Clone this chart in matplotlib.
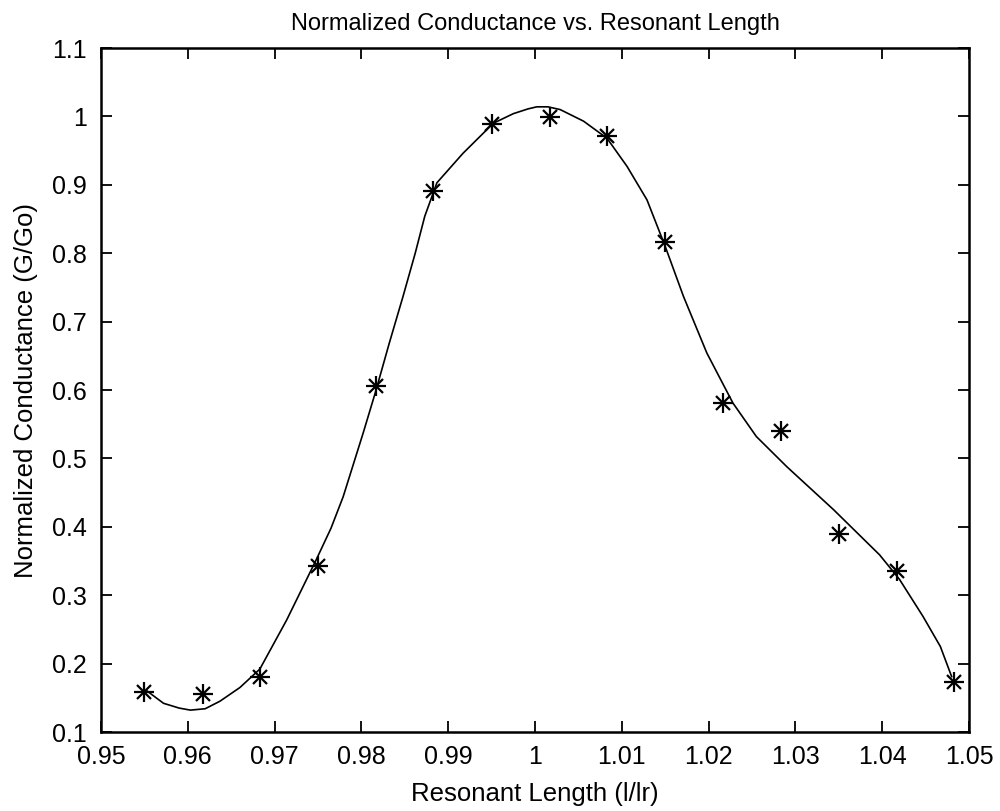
import matplotlib
matplotlib.use("Agg")
from matplotlib import pyplot as plt

# measured points (stars)
length = [0.9550, 0.9617, 0.9683, 0.9750, 0.9817, 0.9883, 0.9950, 1.0017,
          1.0083, 1.0150, 1.0217, 1.0283, 1.0350, 1.0417, 1.0483]
conductance = [0.158, 0.156, 0.181, 0.342, 0.606, 0.891, 0.989, 0.999,
               0.972, 0.817, 0.581, 0.540, 0.389, 0.336, 0.173]

# fitted curve
fit_x = [0.9553, 0.9572, 0.9590, 0.9603, 0.9620, 0.9637, 0.9660, 0.9683,
         0.9714, 0.9748, 0.9765, 0.9779, 0.9802, 0.9816, 0.9832, 0.9848,
         0.9862, 0.9873, 0.9887, 0.9917, 0.9952, 0.9975, 0.9992, 1.0002,
         1.0015, 1.0029, 1.0056, 1.0083, 1.0106, 1.0129, 1.0150, 1.0171,
         1.0198, 1.0228, 1.0255, 1.0290, 1.0344, 1.0397, 1.0420, 1.0447,
         1.0467, 1.0480]
fit_y = [0.160, 0.142, 0.135, 0.132, 0.134, 0.145, 0.165, 0.192,
         0.264, 0.352, 0.398, 0.444, 0.537, 0.596, 0.668, 0.737,
         0.800, 0.854, 0.903, 0.946, 0.990, 1.004, 1.011, 1.014,
         1.014, 1.010, 0.993, 0.968, 0.927, 0.878, 0.810, 0.737,
         0.654, 0.581, 0.532, 0.488, 0.425, 0.359, 0.323, 0.269,
         0.225, 0.181]

plt.rcParams["font.family"] = ["Liberation Sans", "DejaVu Sans"]

fig = plt.figure(figsize=(10, 8.11), dpi=100)
ax = fig.add_axes([0.101, 0.0974, 0.868, 0.8434])

ax.plot(fit_x, fit_y, color="black", linewidth=1.2)
# matlab-style asterisk: plus + cross
ax.plot(length, conductance, linestyle="none", marker="+", color="black",
        markersize=14, markeredgewidth=1.6)
ax.plot(length, conductance, linestyle="none", marker="x", color="black",
        markersize=10, markeredgewidth=1.6)

ax.set_xlim(0.95, 1.05)
ax.set_ylim(0.1, 1.1)
ax.set_xticks([0.95 + 0.01 * i for i in range(11)])
ax.set_xticklabels(["0.95", "0.96", "0.97", "0.98", "0.99", "1",
                    "1.01", "1.02", "1.03", "1.04", "1.05"])
ax.set_yticks([0.1 + 0.1 * i for i in range(11)])
ax.set_yticklabels(["0.1", "0.2", "0.3", "0.4", "0.5", "0.6", "0.7",
                    "0.8", "0.9", "1", "1.1"])
ax.tick_params(direction="in", length=8, width=1.3, top=True, right=True,
               labelsize=18)
ax.tick_params(axis="y", pad=10)
ax.tick_params(axis="x", pad=9)
for s in ax.spines.values():
    s.set_linewidth(1.8)

ax.set_title("Normalized Conductance vs. Resonant Length", fontsize=17, pad=13)
ax.set_xlabel("Resonant Length (l/lr)", fontsize=18.5, labelpad=10)
ax.set_ylabel("Normalized Conductance (G/Go)", fontsize=18.5, labelpad=10)

fig.savefig("out.png", dpi=100)
